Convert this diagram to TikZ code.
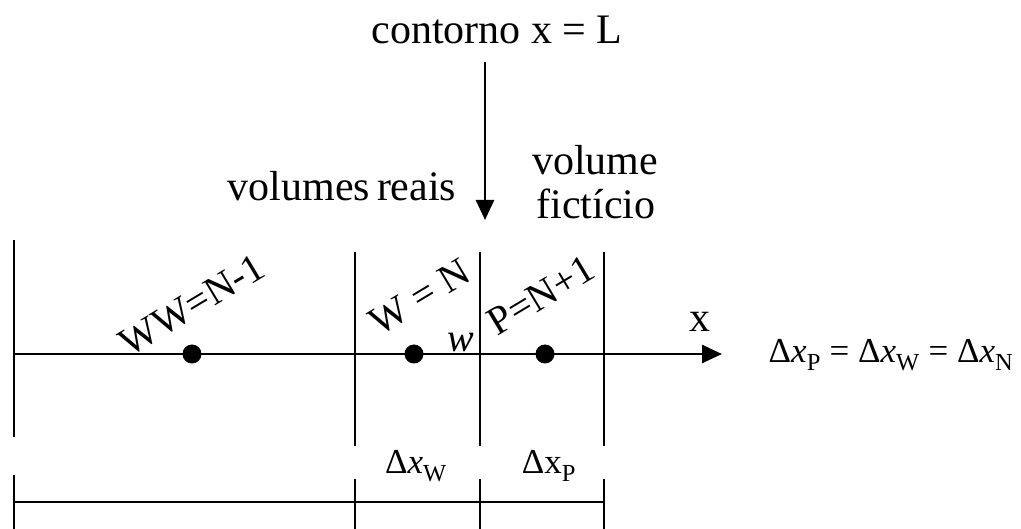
\documentclass[tikz,border=0pt]{standalone}
\usepackage{fontspec}
\setmainfont{Liberation Serif}
\usetikzlibrary{arrows.meta}
\newcommand\dxs[2]{Δ#1\textsubscript{#2}}
\begin{document}
\begin{tikzpicture}[x=1pt,y=-1pt,
  ln/.style={line width=2.6pt},
  dotn/.style={circle,fill=black,inner sep=0pt,minimum size=19pt},
  lab/.style={font=\fontsize{42}{44}\selectfont,inner sep=0pt},
  rlab/.style={font=\fontsize{40}{42}\selectfont,inner sep=0pt,rotate=31},
  sml/.style={font=\fontsize{35}{37}\selectfont,inner sep=0pt}]
\useasboundingbox (0,0) rectangle (1021,529);
% axis
\coordinate (a0) at (14,354);
\coordinate (a1) at (722,354);
\draw[ln,-{Triangle[length=20pt,width=18pt]}] (a0) -- (a1);
% vertical grid lines
\coordinate (v1t) at (14,240); \coordinate (v1b) at (14,437);
\coordinate (v2t) at (355,252); \coordinate (v2b) at (355,446);
\coordinate (v3t) at (480,252); \coordinate (v3b) at (480,446);
\coordinate (v4t) at (604,252); \coordinate (v4b) at (604,446);
\draw[ln] (v1t) -- (v1b);
\draw[ln] (v2t) -- (v2b);
\draw[ln] (v3t) -- (v3b);
\draw[ln] (v4t) -- (v4b);
% dots
\node[dotn] (ww) at (192,354) {};
\node[dotn] (w) at (414,354) {};
\node[dotn] (p) at (545,354) {};
% rotated labels
\node[rlab] (lww) at (192,305) {WW=N-1};
\node[rlab] (lw) at (420,297) {W = N};
\node[rlab] (lp) at (541,295) {P=N+1};
\node[lab,font=\fontsize{40}{42}\selectfont\itshape] (lwf) at (461,343) {w};
\node[lab] (lx) at (700,322) {x};
% top labels and arrow
\node[lab] (cont) at (497,30) {contorno x = L};
\coordinate (arrS) at (485,62);
\coordinate (arrE) at (485,220);
\draw[ln,-{Triangle[length=20pt,width=18pt]}] (arrS) -- (arrE);
\node[lab] (vr) at (342,186) {volumes\,reais};
\node[lab] (vf1) at (595,160) {volume};
\node[lab] (vf2) at (596,204) {fictício};
% equation
\node[sml] (eq) at (891,355) {\dxs{\textit{x}}{P} = \dxs{\textit{x}}{W} = \dxs{\textit{x}}{N}};
% bottom dimension line
\coordinate (b1) at (14,502); \coordinate (b4) at (604,502);
\draw[ln] (b1) -- (b4);
\coordinate (t1t) at (14,475); \coordinate (t1b) at (14,529);
\coordinate (t2t) at (355,479); \coordinate (t2b) at (355,529);
\coordinate (t3t) at (480,479); \coordinate (t3b) at (480,529);
\coordinate (t4t) at (604,479); \coordinate (t4b) at (604,529);
\draw[ln] (t1t) -- (t1b);
\draw[ln] (t2t) -- (t2b);
\draw[ln] (t3t) -- (t3b);
\draw[ln] (t4t) -- (t4b);
\node[sml] (dw) at (416,466) {\dxs{\textit{x}}{W}};
\node[sml] (dp) at (549,466) {\dxs{x}{P}};
\end{tikzpicture}
\end{document}
